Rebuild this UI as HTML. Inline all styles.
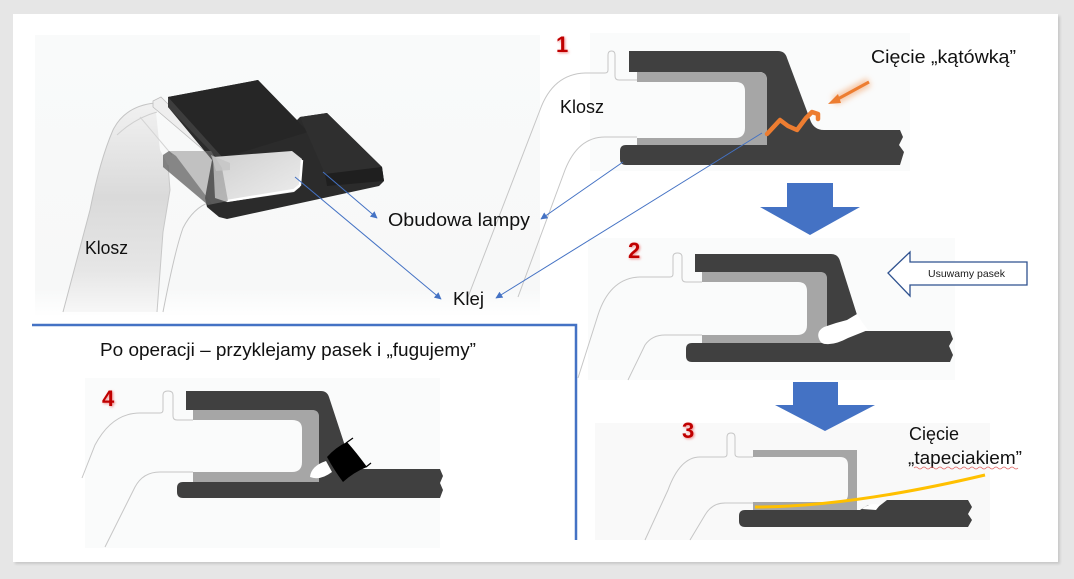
<!DOCTYPE html>
<html><head><meta charset="utf-8">
<style>
html,body{margin:0;padding:0;background:#e6e6e6;width:1074px;height:579px;overflow:hidden;}
svg{display:block;}
text{font-family:"Liberation Sans",sans-serif;}
</style></head><body>
<svg width="1074" height="579" viewBox="0 0 1074 579" xmlns="http://www.w3.org/2000/svg">
<defs>
 <linearGradient id="bandg" x1="0" y1="0" x2="0" y2="1">
  <stop offset="0" stop-color="#f1f1f1"/>
  <stop offset="0.45" stop-color="#dadada"/>
  <stop offset="0.8" stop-color="#e6e6e6"/>
  <stop offset="1" stop-color="#f7f7f7"/>
 </linearGradient>
 <linearGradient id="bgfade" x1="0" y1="0" x2="0" y2="1">
  <stop offset="0" stop-color="#f9fafa"/>
  <stop offset="0.9" stop-color="#f7f8f8"/>
  <stop offset="1" stop-color="#ffffff"/>
 </linearGradient>
 <linearGradient id="chan" x1="0" y1="0" x2="1" y2="1">
  <stop offset="0" stop-color="#cfcfcf"/>
  <stop offset="1" stop-color="#eeeeee"/>
 </linearGradient>
 <filter id="blur3" x="-50%" y="-50%" width="200%" height="200%"><feGaussianBlur stdDeviation="3"/></filter>
 <filter id="blur1" x="-50%" y="-50%" width="200%" height="200%"><feGaussianBlur stdDeviation="1.2"/></filter>
 <marker id="ah" viewBox="0 0 10 10" refX="9" refY="5" markerUnits="userSpaceOnUse" markerWidth="8" markerHeight="7" orient="auto">
  <path d="M0,0 L10,5 L0,10 z" fill="#4472c4"/>
 </marker>
</defs>

<!-- slide -->
<rect x="15" y="16" width="1045" height="548" fill="#c8c8c8" filter="url(#blur1)"/>
<rect x="13" y="14" width="1045" height="548" fill="#ffffff"/>

<!-- background photo areas -->
<rect x="35" y="35" width="505" height="282" fill="url(#bgfade)"/>
<rect x="590" y="33" width="320" height="138" fill="#fafbfb"/>
<rect x="588" y="238" width="367" height="142" fill="#fafbfb"/>
<rect x="595" y="423" width="395" height="117" fill="#f9f9f9"/>
<rect x="85" y="378" width="355" height="170" fill="#fafbfb"/>

<!-- ============ 3D part ============ -->
<path d="M155,103 Q125,106 113,130 Q100,160 90,210 L63,312 L157,312 L163,232 L170,190 L168,165 L160,150 Z" fill="url(#bandg)"/>
<path d="M155,103 Q125,106 113,130 Q100,160 90,210 L63,312" fill="none" stroke="#c4c4c4" stroke-width="1"/>
<path d="M168,165 L170,190 L163,232 L157,312" fill="none" stroke="#c8c8c8" stroke-width="1"/>
<path d="M117,135 Q135,118 157,112" fill="none" stroke="#cfcfcf" stroke-width="1"/>
<path d="M140,117 L172,155" fill="none" stroke="#d4d4d4" stroke-width="1"/>
<path d="M210,202 Q193,208 183,228 Q175,250 163,312" fill="none" stroke="#c4c4c4" stroke-width="1"/>
<path d="M153,101 L161,97 L168,104 L214,150 L207,153 L153,107 Z" fill="#eeeeee" stroke="#bdbdbd" stroke-width="0.8"/>

<path d="M168,97 L258,80 L297,120 L300,117 L327,113 L382,167 L384,181 L379,186 L227,219 L219,217 L207,207 L205,198 L212,160 L168,107 Z" fill="#2b2b2b"/>
<path d="M168,97 L258,80 L308,132 L223,158 Z" fill="#262626"/>
<path d="M168,97 L223,158 L223,164 L168,107 Z" fill="#3d3d3d"/>
<path d="M300,117 L327,113 L382,167 L325,174 Z" fill="#2f2f2f"/>
<path d="M325,174 L382,167 L384,181 L327,186 Z" fill="#1f1f1f"/>
<path d="M213,157 L292,151 L302,159 L300,187 L294,192 L227,202 L215,198 Z" fill="url(#chan)"/>
<path d="M227,201 L294,190 L300,185 L302,160" fill="none" stroke="#ffffff" stroke-width="2.4"/>
<path d="M163,155 L169,151 L211,151 L217,160 L222,168 L228,201 L208,205 L163,167 Z" fill="#8a8a8a" opacity="0.5"/>
<path d="M163,155 L169,151 L176,156 L212,204 L208,205 L163,167 Z" fill="#555555" opacity="0.55"/>
<path d="M211,155 L230,163 L230,170 L216,171 Z" fill="#c4c4c4" opacity="0.8"/>

<!-- ============ Section 1 ============ -->
<path d="M468,297 L540,110 Q553,74 585,73 L605,73 Q608,73 608,70 L608,55 Q608,51 611.5,51 Q615,51 615,55 L615,76 Q615,80 619,80 L637,80" fill="none" stroke="#c6c6c6" stroke-width="1"/>
<path d="M518,297 L565,170 Q578,137 605,137 L637,137" fill="none" stroke="#c6c6c6" stroke-width="1"/>
<path d="M629,51 L778,51 Q785,51 787,58 L811,122 Q815,130 824,130 L900,130 L903,137 L899,145 L904,152 L900,165 L626,165 Q620,165 620,159 L620,151 Q620,145 626,145 L767,145 L767,80 Q767,72 759,72 L629,72 Z" fill="#404040"/>
<path d="M637,72 L759,72 Q767,72 767,80 L767,145 L637,145 L637,138 L735,138 Q745,138 745,128 L745,91 Q745,82 736,82 L637,82 Z" fill="#a6a6a6"/>
<path d="M869,82 L834,101" stroke="#f4b183" stroke-width="9" opacity="0.7" filter="url(#blur3)" fill="none"/>
<path d="M869,82 L836,100" stroke="#ed7d31" stroke-width="3" fill="none"/>
<path d="M828,104 L838,94 L841,103 Z" fill="#ed7d31"/>
<path d="M767,134 L780,120 L788,126 L797,130 L806,118 L812,112 L818,114 L818,119" fill="none" stroke="#ed7d31" stroke-width="4.5" stroke-linejoin="round" stroke-linecap="round"/>

<!-- ============ Section 2 ============ -->
<path d="M578,378 L598,315 Q610,278 640,277 L670,277 Q673,277 673,274 L673,257 Q673,253 677.5,253 Q682,253 682,257 L682,278 Q682,282 686,282 L702,282" fill="none" stroke="#c6c6c6" stroke-width="1"/>
<path d="M628,380 L645,345 Q652,335 665,335 L702,335" fill="none" stroke="#c6c6c6" stroke-width="1"/>
<path d="M702,272 L820,272 Q827,272 827,279 L827,343 L702,343 L702,335 L797,335 Q807,335 807,325 L807,291 Q807,282 798,282 L702,282 Z" fill="#a6a6a6"/>
<path d="M695,254 L831,254 Q838,254 840,261 L858,318 L864,331 L950,331 L953,339 L949,346 L953,355 L950,362 L692,362 Q686,362 686,356 L686,349 Q686,343 692,343 L827,343 L827,279 Q827,272 820,272 L695,272 Z" fill="#404040"/>
<path d="M820,341 Q815,332 824,327 L836,323 L847,320 L857,314 L862,322 L868,330 Q858,334 848,338 Q835,345 826,344 Q822,344 820,341 Z" fill="#ffffff"/>
<path d="M888,273 L910,252 L910,262 L1027,262 L1027,285 L910,285 L910,296 Z" fill="#ffffff" stroke="#2f528f" stroke-width="1.3"/>
<text x="928" y="277" font-size="10.5" fill="#1a1a1a" textLength="77" lengthAdjust="spacingAndGlyphs">Usuwamy pasek</text>

<!-- ============ Section 3 ============ -->
<path d="M645,540 L668,490 Q680,457 700,457 L724,457 Q727,457 727,454 L727,437 Q727,433 731,433 Q735,433 735,437 L735,454 Q735,457 739,457 L753,457" fill="none" stroke="#c6c6c6" stroke-width="1"/>
<path d="M690,540 L705,515 Q712,503 725,503 L753,503" fill="none" stroke="#c6c6c6" stroke-width="1"/>
<path d="M753,450 L857,450 L857,510 L753,510 L753,502 L840,502 Q848,502 848,494 L848,465 Q848,457 840,457 L753,457 Z" fill="#a6a6a6"/>
<path d="M745,510 L860,510 L868,505 L878,507 L887,500 L968,500 L972,507 L968,514 L972,520 L968,527 L745,527 Q739,527 739,521 L739,516 Q739,510 745,510 Z" fill="#404040"/>
<path d="M862,509 Q870,502 880,505 L876,510 Z" fill="#ffffff"/>
<path d="M755,507 Q850,507 985,475" fill="none" stroke="#ffc000" stroke-width="3"/>

<!-- ============ Section 4 ============ -->
<path d="M82,478 L95,445 Q112,413 140,413 L160,413 Q163,413 163,410 L163,395 Q163,391 168,391 Q173,391 173,395 L173,416 Q173,420 177,420 L193,420" fill="none" stroke="#c6c6c6" stroke-width="1"/>
<path d="M105,547 L135,487 Q143,472 160,472 L193,472" fill="none" stroke="#c6c6c6" stroke-width="1"/>
<path d="M193,410 L312,410 Q319,410 319,417 L319,482 L193,482 L193,472 L292,472 Q302,472 302,462 L302,429 Q302,420 292,420 L193,420 Z" fill="#a6a6a6"/>
<path d="M186,391 L321,391 Q327,391 329,397 L348,455 L358,469 L440,469 L443,476 L440,483 L443,490 L440,498 L183,498 Q177,498 177,492 L177,488 Q177,482 183,482 L319,482 L319,417 Q319,410 312,410 L186,410 Z" fill="#404040"/>
<path d="M310,477 Q311,466 326,461 L332,472 Q320,481 310,477 Z" fill="#ffffff"/>
<path d="M327,457 Q336,447 347,442 Q356,452 367,467 Q354,472 343,482 Q334,470 327,457 Z" fill="#000000"/>
<path d="M346,443 L353,438" stroke="#000" stroke-width="1.2"/>
<path d="M366,467 L371,463" stroke="#000" stroke-width="1.2"/>

<!-- ============ blue block arrows ============ -->
<path d="M787,183 L833,183 L833,207 L860,207 L810,235 L760,207 L787,207 Z" fill="#4472c4"/>
<path d="M793,382 L838,382 L838,405 L875,405 L825,431 L775,405 L793,405 Z" fill="#4472c4"/>

<!-- ============ connectors ============ -->
<line x1="323" y1="172" x2="377" y2="218" stroke="#4472c4" stroke-width="1" marker-end="url(#ah)"/>
<line x1="295" y1="177" x2="441" y2="299" stroke="#4472c4" stroke-width="1" marker-end="url(#ah)"/>
<line x1="623" y1="162" x2="541" y2="219" stroke="#4472c4" stroke-width="1" marker-end="url(#ah)"/>
<line x1="762" y1="133" x2="496" y2="298" stroke="#4472c4" stroke-width="1" marker-end="url(#ah)"/>

<path d="M32,325 L576,325 L576,540" fill="none" stroke="#4472c4" stroke-width="2.5"/>

<!-- ============ labels ============ -->
<text x="85" y="254" font-size="18" fill="#111" textLength="43" lengthAdjust="spacingAndGlyphs">Klosz</text>
<text x="560" y="113" font-size="18" fill="#111" textLength="44" lengthAdjust="spacingAndGlyphs">Klosz</text>
<text x="388" y="226" font-size="18" fill="#111" textLength="142" lengthAdjust="spacingAndGlyphs">Obudowa lampy</text>
<text x="453" y="305" font-size="18" fill="#111" textLength="31" lengthAdjust="spacingAndGlyphs">Klej</text>
<text x="871" y="63" font-size="18" fill="#111" textLength="145" lengthAdjust="spacingAndGlyphs">Cięcie „kątówką”</text>
<text x="100" y="356" font-size="18" fill="#111" textLength="376" lengthAdjust="spacingAndGlyphs">Po operacji – przyklejamy pasek i „fugujemy”</text>
<text x="909" y="440" font-size="18" fill="#111" textLength="50" lengthAdjust="spacingAndGlyphs">Cięcie</text>
<text x="908" y="464" font-size="18" fill="#111" textLength="114" lengthAdjust="spacingAndGlyphs">„tapeciakiem”</text>
<path d="M914,468 q2,-2 4,0 t4,0 t4,0 t4,0 t4,0 t4,0 t4,0 t4,0 t4,0 t4,0 t4,0 t4,0 t4,0 t4,0 t4,0 t4,0 t4,0 t4,0 t4,0 t4,0 t4,0 t4,0 t4,0 t4,0 t4,0 t4,0" fill="none" stroke="#e06666" stroke-width="0.8"/>

<g font-size="22" font-weight="bold" fill="#c00000">
 <text x="557" y="53" fill="#e88" filter="url(#blur1)">1</text>
 <text x="556" y="52">1</text>
 <text x="629" y="259" fill="#e88" filter="url(#blur1)">2</text>
 <text x="628" y="258">2</text>
 <text x="683" y="439" fill="#e88" filter="url(#blur1)">3</text>
 <text x="682" y="438">3</text>
 <text x="103" y="407" fill="#e88" filter="url(#blur1)">4</text>
 <text x="102" y="406">4</text>
</g>
</svg>
</body></html>
